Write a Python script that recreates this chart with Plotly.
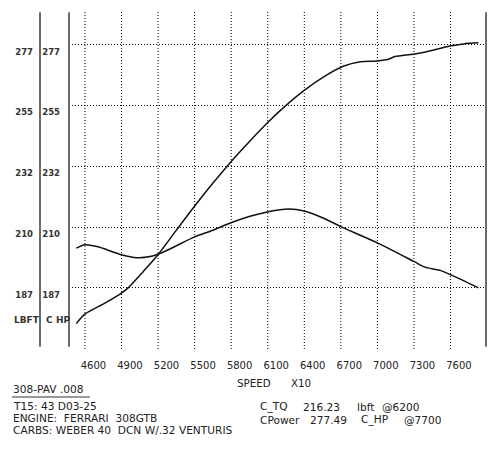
import plotly.graph_objects as go

# ---------------- data ----------------
rpm_ticks = [4600, 4900, 5200, 5500, 5800, 6100, 6400, 6700, 7000, 7300, 7600]
rpm_tick_labels = [str(v) for v in rpm_ticks]
GRID_OFFSET = 69  # the printout's vertical grid sits slightly left of each label

y_gridvals = [165, 187.5, 210, 232.5, 255, 277.5]
y_tick_labels = ["", "187", "210", "232", "255", "277"]

power_rpm = [4460, 4530, 4680, 4830, 4890, 5010, 5130, 5280, 5430, 5580, 5735,
             5885, 6035, 6160, 6330, 6490, 6650, 6790, 6930, 7020, 7075, 7225,
             7335, 7525, 7635, 7760]
power_hp = [174.3, 177.8, 181.5, 185.6, 187.7, 193.6, 199.8, 208.8, 217.7, 226.2, 234.5,
            241.9, 248.9, 254.2, 260.6, 265.6, 269.5, 271.2, 271.5, 272.1, 273.1, 274.0,
            274.9, 277.0, 277.8, 278.2]

torque_rpm = [4460, 4530, 4630, 4830, 4955, 5065, 5175, 5435, 5555, 5735, 5885,
              6035, 6200, 6330, 6490, 6630, 6935, 7230, 7320, 7445, 7530, 7760]
torque_lbft = [202.2, 203.5, 202.8, 199.8, 198.7, 199.1, 200.8, 206.5, 208.4, 211.7, 214.0,
               215.7, 216.7, 216.0, 213.3, 210.2, 204.1, 197.3, 195.2, 194.0, 192.4, 187.5]

run_title = "308-PAV .008"
info_lines = ["T15: 43 D03-25",
              "ENGINE:\u00a0\u00a0FERRARI\u00a0\u00a0308GTB",
              "CARBS: WEBER 40\u00a0\u00a0DCN W/.32 VENTURIS"]
summary_names = ["C_TQ", "CPower"]
summary_values = ["216.23", "277.49"]
summary_units = ["lbft", "C_HP"]
summary_at = ["@6200", "@7700"]
unit_row = ["LBFT", "C", "HP"]
x_title = ["SPEED", "X10"]

# ---------------- layout helpers ----------------
W, H = 500, 460
ML, MR, MT, MB = 0, 14, 12, 111
PW = W - ML - MR
PH = H - MT - MB


def px(xpix):
    return (xpix - ML) / PW


def py(ypix):
    return (H - MB - ypix) / PH


FONT = "DejaVu Sans"
TXT = "#222222"
AXC = "#6b6b6b"
YR = [164.9, 289.6]
GRID_DASH = "1px,2px"

fig = go.Figure()
fig.add_trace(go.Scatter(x=power_rpm, y=power_hp, mode="lines",
                         line=dict(color="#111111", width=1.5, shape="spline", smoothing=0.8),
                         xaxis="x", yaxis="y", showlegend=False, hoverinfo="skip"))
fig.add_trace(go.Scatter(x=torque_rpm, y=torque_lbft, mode="lines",
                         line=dict(color="#111111", width=1.5, shape="spline", smoothing=0.8),
                         xaxis="x", yaxis="y2", showlegend=False, hoverinfo="skip"))

ytick_font = dict(family=FONT, size=8.5, color="#333333", weight="bold")

fig.update_layout(
    width=W, height=H,
    margin=dict(l=ML, r=MR, t=MT, b=MB, pad=0),
    paper_bgcolor="white", plot_bgcolor="white",
    xaxis=dict(domain=[px(69), 1], range=[4400, 7822], anchor="y",
               tickvals=rpm_ticks, ticktext=rpm_tick_labels,
               showgrid=False, zeroline=False, showline=False, ticks="",
               ticklabelstandoff=9,
               tickfont=dict(family=FONT, size=10, color=TXT)),
    yaxis=dict(anchor="free", position=px(69), range=YR,
               tickvals=y_gridvals, ticktext=y_tick_labels,
               showgrid=True, gridcolor="#000000", gridwidth=1, griddash=GRID_DASH,
               showline=False, zeroline=False, ticks="",
               ticklabelshift=7, ticklabelstandoff=9,
               tickfont=ytick_font),
    yaxis2=dict(overlaying="y", anchor="free", position=px(40), side="left", range=YR,
                tickvals=y_gridvals, ticktext=y_tick_labels,
                showgrid=False, showline=False, zeroline=False, ticks="",
                ticklabelshift=7, ticklabelstandoff=7,
                tickfont=ytick_font),
)

# vertical dotted grid
for v in rpm_ticks:
    fig.add_shape(type="line", xref="x", yref="paper", x0=v - GRID_OFFSET, x1=v - GRID_OFFSET,
                  y0=0, y1=1, layer="below",
                  line=dict(color="#000000", width=1, dash=GRID_DASH))

# solid axis rules (two on the left, one on the right)
for xp in [40, 69, 486]:
    fig.add_shape(type="line", xref="paper", yref="paper", x0=px(xp), x1=px(xp),
                  y0=py(346.7), y1=py(12.3), line=dict(color=AXC, width=2))

ann = []


def add_text(text, xpix, ypix, size=10.6, color=TXT, bold=False):
    f = dict(family=FONT, size=size, color=color)
    if bold:
        f["weight"] = "bold"
    ann.append(dict(text=text, xref="paper", yref="paper", x=px(xpix), y=py(ypix),
                    xanchor="left", yanchor="middle", showarrow=False, font=f, borderpad=0))


# unit row under the y labels
for t, xp in zip(unit_row, [13, 45, 55]):
    add_text(t, xp, 320, size=9, color="#333333", bold=True)

# x title
add_text(x_title[0], 236, 382.5, size=10.3)
add_text(x_title[1], 290, 382.5, size=10.3)

# left info block
add_text(run_title, 12, 389)
for t, yp in zip(info_lines, [406, 418, 430]):
    add_text(t, 12, yp)

# right summary block
for i, yp in enumerate([406.7, 419.5]):
    xs = [259, 302, 356, 381] if i == 0 else [259, 309, 360, 403]
    for t, xp in zip([summary_names[i], summary_values[i], summary_units[i], summary_at[i]], xs):
        add_text(t, xp, yp)

fig.update_layout(annotations=ann)

# underline of the run title
fig.add_shape(type="line", xref="paper", yref="paper", x0=px(12), x1=px(90),
              y0=py(397), y1=py(397), line=dict(color="#333333", width=1))

fig.write_html("out.html", config={"displayModeBar": False},
               post_script="document.body.style.margin='0';")
